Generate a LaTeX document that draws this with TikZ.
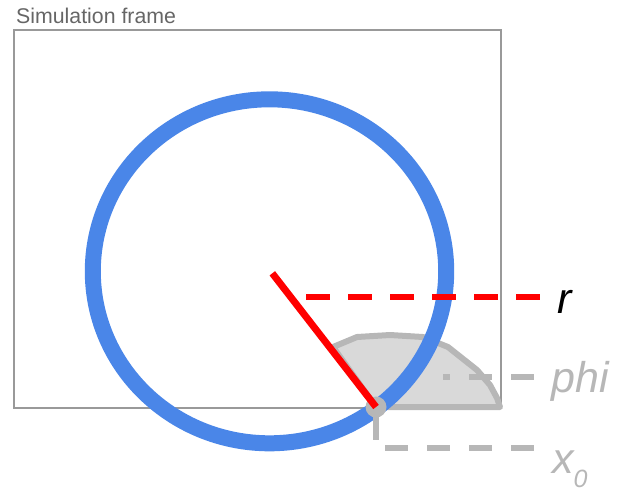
\documentclass[tikz,border=0pt]{standalone}
\usepackage{fontspec}
\setmainfont{Liberation Sans}
\definecolor{gblue}{HTML}{4A86E8}
\definecolor{gline}{HTML}{B7B7B7}
\definecolor{gfill}{HTML}{D9D9D9}
\definecolor{frameg}{HTML}{999999}
\definecolor{titleg}{HTML}{666666}
\tikzset{
  framebox/.style={draw=frameg, line width=1.5pt},
  wheel/.style={draw=gblue, line width=16pt},
  spoke/.style={draw=red, line width=7pt},
  rdash/.style={draw=red, line width=6pt, dash pattern=on 24pt off 18pt},
  gdash/.style={draw=gline, line width=6pt, dash pattern=on 23pt off 19pt},
  patch/.style={draw=gline, fill=gfill, line width=6pt, line join=round},
  lbl/.style={anchor=base west, inner sep=0pt, font=\fontsize{43}{43}\selectfont\itshape},
}
\begin{document}
\begin{tikzpicture}[x=1pt,y=-1pt]
\useasboundingbox (0,0) rectangle (621,491);
% frame
\draw[framebox] (14,30) rectangle (501,408);
\node[anchor=base west, inner sep=0pt, text=titleg, font=\fontsize{21.3}{21.3}\selectfont] (title) at (16,23) {Simulation frame};
% gray patch
\draw[patch] (376,407) -- (333,347) -- (357,337) -- (390,335) -- (423,337) -- (448,347)
  -- (477,370) -- (490,385) -- (497,398) -- (500,407) -- cycle;
% coordinates
\coordinate (c) at (269.5,271.3);
\coordinate (cs) at (272.3,273.3);
\coordinate (p) at (376,407);
\coordinate (rs) at (306,296.5);
\coordinate (re) at (540,296.5);
\coordinate (ps) at (443,377);
\coordinate (pe) at (535,377);
\coordinate (xv) at (376,440);
\coordinate (xs) at (385,448);
\coordinate (xe) at (535,448);
% phi dashes
\draw[gdash, dash phase=16pt] (ps) -- (pe);
% wheel
\draw[wheel] (c) ellipse [x radius=176.7, y radius=172];
% x0 lines
\draw[draw=gline, line width=6pt] (p) -- (xv);
\draw[gdash] (xs) -- (xe);
% dot
\node[circle, fill=gline, minimum size=21pt, inner sep=0pt] (dot) at (p) {};
% red
\draw[spoke] (cs) -- (p);
\draw[rdash] (rs) -- (re);
% labels
\node[lbl, text=black] (rl) at (557,313) {r};
\node[lbl, text=gline] (phil) at (551,392) {phi};
\node[lbl, text=gline] (xl) at (552,473) {x\raisebox{-14pt}{\fontsize{25}{25}\selectfont 0}};
\end{tikzpicture}
\end{document}
